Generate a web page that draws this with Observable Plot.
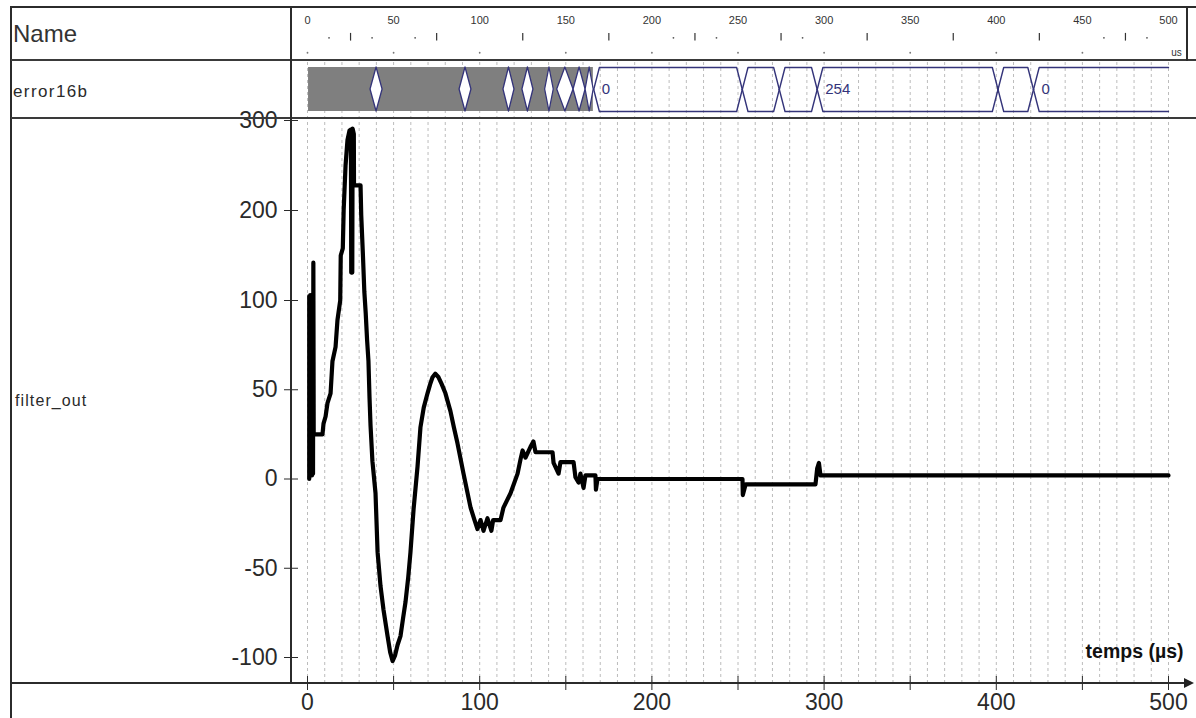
<!DOCTYPE html>
<html><head><meta charset="utf-8">
<script src="https://cdn.jsdelivr.net/npm/d3@7"></script>
<script src="https://cdn.jsdelivr.net/npm/@observablehq/plot@0.6"></script>
<style>
html,body{margin:0;padding:0;background:#fff;}
#wrap{position:relative;width:1196px;height:718px;overflow:hidden;background:#fff;font-family:"Liberation Sans",Arial,sans-serif;}
.layer{position:absolute;left:0;top:0;}
.ln{position:absolute;background:#2b2b2b;}
.lbl{position:absolute;color:#2a2a2a;white-space:nowrap;line-height:1;}
</style></head>
<body>
<div id="wrap">
  <div id="mainLayer" class="layer"></div>
  <div id="topLayer" class="layer"></div>
  <div class="ln" style="left:10px;top:6px;width:1186px;height:2px"></div>
  <div class="ln" style="left:10px;top:6px;width:2px;height:712px"></div>
  <div class="ln" style="left:11px;top:59px;width:1185px;height:2px;background:#3a3a3a"></div>
  <div class="ln" style="left:11px;top:117px;width:1185px;height:2px;background:#3a3a3a"></div>
  <div class="ln" style="left:290px;top:6px;width:2px;height:678px"></div>
  <div class="ln" style="left:1186px;top:6px;width:2px;height:55px"></div>
  <div class="ln" style="left:11px;top:682px;width:1176px;height:2px"></div>
  <div style="position:absolute;left:1184px;top:678px;width:0;height:0;border-left:10px solid #222;border-top:5px solid transparent;border-bottom:5px solid transparent"></div>
  <div class="lbl" style="left:13px;top:22px;font-size:24px;color:#333">Name</div>
  <div class="lbl" style="left:13px;top:83px;font-size:17px;letter-spacing:1.4px">error16b</div>
  <div class="lbl" style="left:15px;top:393px;font-size:16px;letter-spacing:1.1px">filter_out</div>
</div>
<script>
// ---- filter_out signal (time in µs, value) ----
const timeUs = [1.0,1.0,1.4,1.6,2.0,2.2,2.6,2.8,3.2,3.4,3.6,8.7,9.3,10.5,11.6,13.4,14.5,16.3,17.4,19.0,19.3,20.5,21.0,22.1,23.2,24.4,25.2,25.4,26.0,26.2,26.9,27.0,30.8,31.2,32.2,33.0,33.8,34.6,35.4,36.0,36.6,37.7,39.5,40.7,42.4,44.1,46.5,48.0,49.4,50.8,52.3,54.0,55.5,56.9,58.5,59.8,61.6,63.9,65.6,67.5,69.7,71.2,72.6,74.2,76.1,78.0,80.1,83.0,85.0,87.1,90.6,94.7,97.0,98.7,100.5,102.2,104.5,106.8,107.8,112.1,113.8,117.9,122.0,123.7,124.9,126.6,129.5,131.2,132.4,142.3,142.9,145.8,146.9,154.5,155.6,157.4,158.5,160.3,161.4,167.2,167.5,168.4,252.6,252.8,254.4,295.0,296.0,297.0,297.9,500.0];
const filterOut = [0,105,2,106,2,105,2,106,3,142,25,25,31,35,42.5,48,66,74,89,100,150,158,200,250,278,289,290,131,131,291,285,228,228,195,150,110,93,78,66,46,30,10,-8,-41,-60,-73,-88,-97,-102,-99,-93,-88,-78,-69,-55,-41,-17,7,29,40,48,53,57,59,57,53,48,38,29,20,3,-16,-23,-28,-23,-29,-22,-29,-23,-23,-16,-8,3,11,16,12,18,21,15,15,9,3,9.5,9.5,1,-2,3,-5,2,2,-6,0,0,-9,-3,-3,6,9,2,2];

// ---- axes ----
const yTicks = [-100, -50, 0, 50, 100, 200, 300];
const xTicks = [0, 50, 100, 150, 200, 250, 300, 350, 400, 450, 500];
const gridTimes = d3.range(0, 501, 10);

// ---- time ruler (top row) ----
const rulerLabels = [0, 50, 100, 150, 200, 250, 300, 350, 400, 450, 500];
const rulerMidTicks = [25, 75, 125, 175, 225, 275, 325, 375, 425, 475];
const rulerDots = [12.5, 37.5, 62.5, 212.5, 237.5, 287.5, 462.5, 487.5];
const rulerBaseDots = [0, 50, 100, 150, 200, 250, 300, 350, 400, 450];

// ---- error16b bus ----
const busGray = [0.6, 166];
const diamondStart = [36.6, 88.3, 113.8, 124.8, 138.0, 145.0, 154.5, 161.5];
const diamondEnd   = [43.6, 95.2, 120.2, 131.2, 143.0, 154.5, 161.5, 166.2];
const busStart = [166.2, 252.5, 274, 296, 401, 421.6];
const busEnd   = [252.5, 274, 296, 401, 421.6, 500];
const busLabel = ["0", "", "", "254", "", "0"];

const FONT = "Liberation Sans, Arial, sans-serif";
const BUS = "#34347a";
const xScale = {domain: [0, 500], range: [307, 1168]};

const series = timeUs.map((t, i) => ({t, v: filterOut[i]}));

const mainPlot = Plot.plot({
  width: 1196, height: 718,
  marginTop: 62, marginBottom: 35, marginLeft: 291, marginRight: 13,
  x: {...xScale, label: null},
  y: {type: "linear", domain: [-100, 100, 300], range: [657, 300, 120], label: null},
  style: {background: "transparent", fontFamily: FONT, overflow: "visible"},
  marks: [
    Plot.ruleX(gridTimes, {stroke: "#bcbcbc", strokeDasharray: "3,3", strokeWidth: 1}),
    Plot.line(series, {x: "t", y: "v", stroke: "#000", strokeWidth: 4.2, strokeLinejoin: "round", strokeLinecap: "round"}),
    Plot.axisY({ticks: yTicks, tickSize: 14, tickPadding: 7, dx: 7, fontSize: 23, tickFormat: d => String(d), color: "#2a2a2a", label: null}),
    Plot.axisX({ticks: xTicks, tickSize: 14, tickPadding: 3, dy: -7, fontSize: 23, tickFormat: d => d % 100 === 0 ? String(d) : "", color: "#2a2a2a", label: null}),
    Plot.text(["temps (µs)"], {frameAnchor: "bottom-right", dy: -26, textAnchor: "end", fontWeight: "bold", fontSize: 19.5, fill: "#111"})
  ]
});
document.getElementById("mainLayer").appendChild(mainPlot);

// bus geometry
const taper = 3.3;
const diamondPts = diamondStart.flatMap((s, i) => {
  const e = diamondEnd[i];
  return [{id: i, t: s, lo: 0, hi: 0}, {id: i, t: (s + e) / 2, lo: -1, hi: 1}, {id: i, t: e, lo: 0, hi: 0}];
});
const hexLines = [];
busStart.forEach((s, i) => {
  const e = busEnd[i];
  const open = i === busStart.length - 1;
  for (const side of [1, -1]) {
    const id = i + "_" + side;
    hexLines.push({id, t: s, v: 0}, {id, t: s + taper, v: side});
    if (open) hexLines.push({id, t: e, v: side});
    else hexLines.push({id, t: e - taper, v: side}, {id, t: e, v: 0});
  }
});
const busLabels = busStart.map((s, i) => ({t: s, label: busLabel[i]})).filter(d => d.label);

const topPlot = Plot.plot({
  width: 1196, height: 118,
  marginTop: 0, marginBottom: 0, marginLeft: 0, marginRight: 0,
  x: {...xScale, axis: null},
  y: {domain: [-1, 1], range: [111, 67], axis: null},
  style: {background: "transparent", fontFamily: FONT, overflow: "visible"},
  marks: [
    Plot.rect([{s: busGray[0], e: busGray[1]}], {x1: "s", x2: "e", y1: () => -1, y2: () => 1, fill: "#7f7f7f"}),
    Plot.areaY(diamondPts, {x: "t", y1: "lo", y2: "hi", z: "id", fill: "white", stroke: BUS, strokeWidth: 1.3}),
    Plot.line(hexLines, {x: "t", y: "v", z: "id", stroke: BUS, strokeWidth: 1.4}),
    Plot.text(busLabels, {x: "t", y: () => 0, text: "label", textAnchor: "start", dx: 8, fontSize: 15, fill: BUS}),
    Plot.text(rulerLabels, {x: d => d, y: () => 3.14, text: d => String(d), fontSize: 11, fill: "#333"}),
    Plot.ruleX(rulerMidTicks, {x: d => d, y1: () => 2.2, y2: () => 2.55, stroke: "#333", strokeWidth: 1.2}),
    Plot.dot(rulerDots, {x: d => d, y: () => 2.35, r: 0.9, fill: "#555", stroke: null}),
    Plot.dot(rulerBaseDots, {x: d => d, y: () => 1.67, r: 0.9, fill: "#777", stroke: null}),
    Plot.text(["us"], {x: () => 500, y: () => 1.67, dx: 8, fontSize: 10, fill: "#333"})
  ]
});
document.getElementById("topLayer").appendChild(topPlot);
</script>
</body></html>
